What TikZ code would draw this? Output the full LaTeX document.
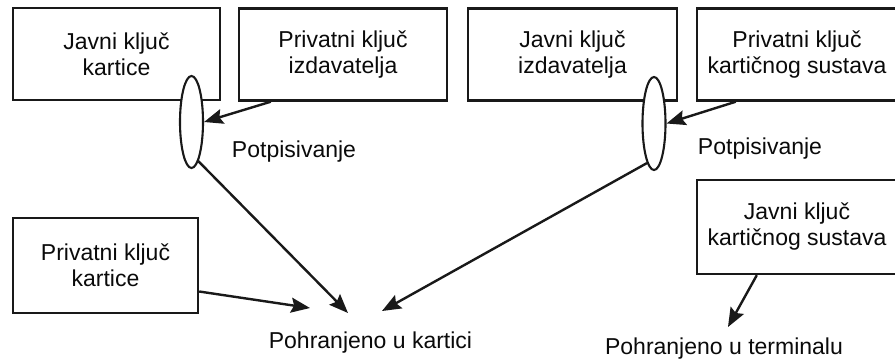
\documentclass[tikz,border=0pt]{standalone}
\usepackage{fontspec}
\setmainfont{Liberation Sans}
\usepackage{tikz}
\usetikzlibrary{shapes.geometric, arrows.meta, positioning, calc}
\definecolor{inkline}{RGB}{25, 25, 25}
\definecolor{inktext}{RGB}{10, 10, 10}

\begin{document}
\begin{tikzpicture}[x=1pt, y=-1pt,
    keybox/.style={draw=inkline, line width=2.4pt, align=center, inner sep=0pt,
        minimum height=92pt, font=\fontsize{23}{26}\selectfont, text=inktext},
    signoval/.style={draw=inkline, fill=white, line width=2.1pt, ellipse, inner sep=0pt,
        minimum width=23pt, minimum height=92pt},
    plainlbl/.style={font=\fontsize{23}{26}\selectfont, text=inktext, inner sep=0pt, anchor=base},
    keyarrow/.style={draw=inkline, line width=2.4pt, -{Stealth[length=19pt, width=15pt, inset=3pt]}}]
                \useasboundingbox (0,0) rectangle (895,362);

                % Top row of keys
                \node[keybox, minimum width=207pt] (javniKartice) at (116.5,54) {Javni ključ\\kartice};
                \node[keybox, minimum width=208pt] (privIzdavatelja) at (343,54.5) {Privatni ključ\\izdavatelja};
                \node[keybox, minimum width=209pt] (javniIzdavatelja) at (572.5,54.5) {Javni ključ\\izdavatelja};
                \node[keybox, minimum width=200pt] (privSustava) at (797,54.5) {Privatni ključ\\kartičnog sustava};

                % Signing ovals
                \node[signoval] (potpis1) at (191.5,122) {};
                \node[signoval, minimum height=93pt] (potpis2) at (654,123.5) {};
                \node[plainlbl] (lblPotpis1) at (294,157) {Potpisivanje};
                \node[plainlbl] (lblPotpis2) at (760,154) {Potpisivanje};

                % Lower keys
                \node[keybox, minimum width=185pt, minimum height=95pt] (privKartice) at (105.5,265.5) {Privatni ključ\\kartice};
                \node[keybox, minimum width=200pt, minimum height=94pt] (javniSustava) at (797,227) {Javni ključ\\kartičnog sustava};

                % Storage labels
                \node[plainlbl] (pohrKartica) at (370.5,348) {Pohranjeno u kartici};
                \node[plainlbl] (pohrTerminal) at (724,354) {Pohranjeno u terminalu};
                \coordinate (k1) at (310,308);
                \coordinate (k2) at (348,313);
                \coordinate (k3) at (382,311);
                \coordinate (t1) at (728,327);

                % Arrows
                \draw[keyarrow] ([xshift=33pt]privIzdavatelja.south west) -- (potpis1.east);
                \draw[keyarrow] (potpis1.-80) -- (k2);
                \draw[keyarrow] ([yshift=-26pt]privKartice.east) -- (k1);
                \draw[keyarrow] ([xshift=40pt]privSustava.south west) -- (potpis2.east);
                \draw[keyarrow] (potpis2.-100) -- (k3);
                \draw[keyarrow] ([xshift=61pt]javniSustava.south west) -- (t1);
            \end{tikzpicture}
\end{document}
